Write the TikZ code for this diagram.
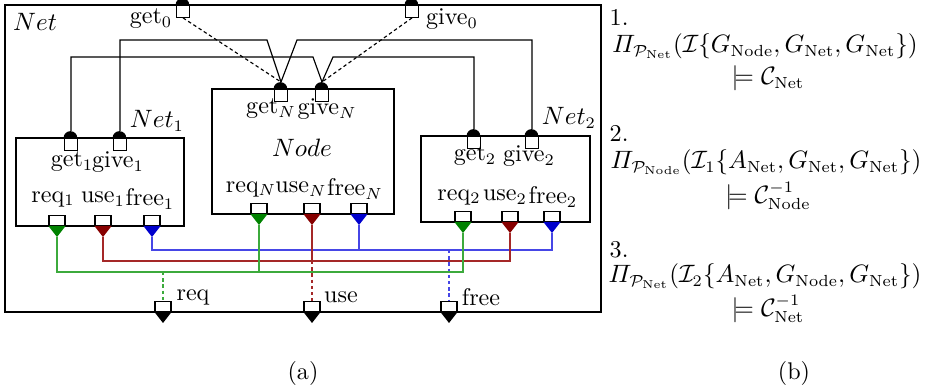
\documentclass[tikz,border=0pt]{standalone}
\usepackage{amsmath, amssymb}
\usepackage{xcolor}
\usetikzlibrary{calc}
\definecolor{reqgreen}{RGB}{0, 130, 0}
\definecolor{usered}{RGB}{135, 0, 0}
\definecolor{freeblue}{RGB}{0, 0, 205}
\definecolor{reqline}{RGB}{60, 170, 60}
\definecolor{useline}{RGB}{165, 40, 40}
\definecolor{freeline}{RGB}{70, 70, 230}
% input pin: square hanging under the edge, half disc on top
\newcommand{\inpin}[2]{%
    \node[inport, anchor=north] (#1) at (#2) {};
    \fill (#1.north west) arc[start angle=180, end angle=0, radius=0.105cm];
    \coordinate (#1d) at ($(#1.north)+(0,-7)$);
}
% output pin: square sitting on the edge, coloured triangle below
\newcommand{\outpin}[3]{%
    \node[outport, anchor=south] (#1) at (#2) {};
    \fill[#3] (#1.south west) -- (#1.south east) -- ($(#1.south)+(0,11)$) -- cycle;
    \coordinate (#1t) at ($(#1.south)+(0,11)$);
}

\begin{document}
\begin{tikzpicture}[
        x=0.0153cm, y=-0.0153cm,
        line width=0.5pt,
        every node/.style={font=\fontsize{10.5}{12.6}\selectfont},
        box/.style={draw, inner sep=0pt},
        inport/.style={draw, fill=white, inner sep=0pt, minimum width=0.21cm, minimum height=0.18cm},
        outport/.style={draw, fill=white, inner sep=0pt, minimum width=0.245cm, minimum height=0.155cm},
        formula/.style={inner sep=0.5pt},
        probe/.style={dash pattern=on 1.5pt off 1.2pt}
    ]
        \useasboundingbox (0,0) rectangle (936,390);

        % Boxes
        \node[box, minimum width=9.12cm, minimum height=4.70cm] (net) at (303,158.5) {};
        \node[box, minimum width=2.785cm, minimum height=1.913cm] (node) at (303,151.5) {};
        \node[box, minimum width=2.570cm, minimum height=1.346cm] (net1) at (100,182) {};
        \node[box, minimum width=2.586cm, minimum height=1.316cm] (net2) at (505.5,179) {};

        % Pins
        \inpin{get0}{183,5}
        \inpin{give0}{412,5}
        \inpin{get1}{71,138}
        \inpin{give1}{120,138}
        \inpin{getN}{281,89}
        \inpin{giveN}{322,89}
        \inpin{get2}{474,136}
        \inpin{give2}{532,136}

        \outpin{req1}{57,226}{reqgreen}
        \outpin{use1}{103,226}{usered}
        \outpin{free1}{152,226}{freeblue}
        \outpin{reqN}{259,214}{reqgreen}
        \outpin{useN}{312,214}{usered}
        \outpin{freeN}{359,214}{freeblue}
        \outpin{req2}{463,222}{reqgreen}
        \outpin{use2}{510,222}{usered}
        \outpin{free2}{552,222}{freeblue}
        \outpin{req}{163,312}{black}
        \outpin{use}{312,312}{black}
        \outpin{free}{449,312}{black}

        % Labels
        \node (netlbl) at (35,22) {$Net$};
        \node (net1lbl) at (157,121) {$Net_1$};
        \node (net2lbl) at (569,118) {$Net_2$};
        \node (nodelbl) at (302,148) {$Node$};
        \node (get0lbl) at (151,19) {get$_0$};
        \node (give0lbl) at (452,19) {give$_0$};
        \node (getNlbl) at (271,109) {get$_N$};
        \node (giveNlbl) at (327,109) {give$_N$};
        \node (get1lbl) at (72,162) {get$_1$};
        \node (give1lbl) at (118,162) {give$_1$};
        \node (get2lbl) at (475,156) {get$_2$};
        \node (give2lbl) at (529,156) {give$_2$};
        \node (req1lbl) at (53,199) {req$_1$};
        \node (use1lbl) at (103,199) {use$_1$};
        \node (free1lbl) at (150,199) {free$_1$};
        \node (reqNlbl) at (251,189) {req$_N$};
        \node (useNlbl) at (301,189) {use$_N$};
        \node (freeNlbl) at (355,189) {free$_N$};
        \node (req2lbl) at (459,197) {req$_2$};
        \node (use2lbl) at (505,197) {use$_2$};
        \node (free2lbl) at (553,197) {free$_2$};
        \node (reqlbl) at (193,297) {req};
        \node (uselbl) at (341,297) {use};
        \node (freelbl) at (481,297) {free};

        % Exchange between the nodes
        \draw (give1d) |- ($(getNd)+(-14,-42)$) -- (getNd);
        \draw (give2d) |- ($(getNd)+(16,-42)$) -- (getNd);
        \draw (get1d) |- ($(giveNd)+(-9,-25)$) -- (giveNd);
        \draw (get2d) |- ($(giveNd)+(11,-25)$) -- (giveNd);
        \draw[probe] (get0.south) -- (getNd);
        \draw[probe] (give0.south) -- (giveNd);

        % Shared resource buses
        \coordinate (fbus) at (0,250);
        \coordinate (ubus) at (0,261);
        \coordinate (gbus) at (0,272);
        \draw[freeline] (free1t) |- (free2t |- fbus) -- (free2t);
        \draw[freeline] (freeNt) -- (freeNt |- fbus);
        \draw[freeline, probe] (free.north |- fbus) -- (free.north);
        \draw[useline] (use1t) |- (use2t |- ubus) -- (use2t);
        \draw[useline] (useNt) -- (useNt |- ubus);
        \draw[useline, probe] (use.north |- ubus) -- (use.north);
        \draw[reqline] (req1t) |- (req2t |- gbus) -- (req2t);
        \draw[reqline] (reqNt) -- (reqNt |- gbus);
        \draw[reqline, probe] (req.north |- gbus) -- (req.north);

        % Proof obligations
        \node[formula, anchor=west] (n1) at (608,17) {1.};
        \node[formula] (f1) at (765,46) {$\varPi_{\mathcal{P}_{\mathrm{Net}}}(\mathcal{I}\{G_{\mathrm{Node}},G_{\mathrm{Net}},G_{\mathrm{Net}}\})$};
        \node[formula] (m1) at (768,78) {$\models\mathcal{C}_{\mathrm{Net}}$};
        \node[formula, anchor=west] (n2) at (608,133) {2.};
        \node[formula] (f2) at (766,162) {$\varPi_{\mathcal{P}_{\mathrm{Node}}}(\mathcal{I}_1\{A_{\mathrm{Net}},G_{\mathrm{Net}},G_{\mathrm{Net}}\})$};
        \node[formula] (m2) at (768,196) {$\models\mathcal{C}^{-1}_{\mathrm{Node}}$};
        \node[formula, anchor=west] (n3) at (608,250) {3.};
        \node[formula] (f3) at (765,276) {$\varPi_{\mathcal{P}_{\mathrm{Net}}}(\mathcal{I}_2\{A_{\mathrm{Net}},G_{\mathrm{Node}},G_{\mathrm{Net}}\})$};
        \node[formula] (m3) at (768,309) {$\models\mathcal{C}^{-1}_{\mathrm{Net}}$};

        % Captions
        \node (capa) at (303,373) {(a)};
        \node (capb) at (794,373) {(b)};
\end{tikzpicture}
\end{document}
